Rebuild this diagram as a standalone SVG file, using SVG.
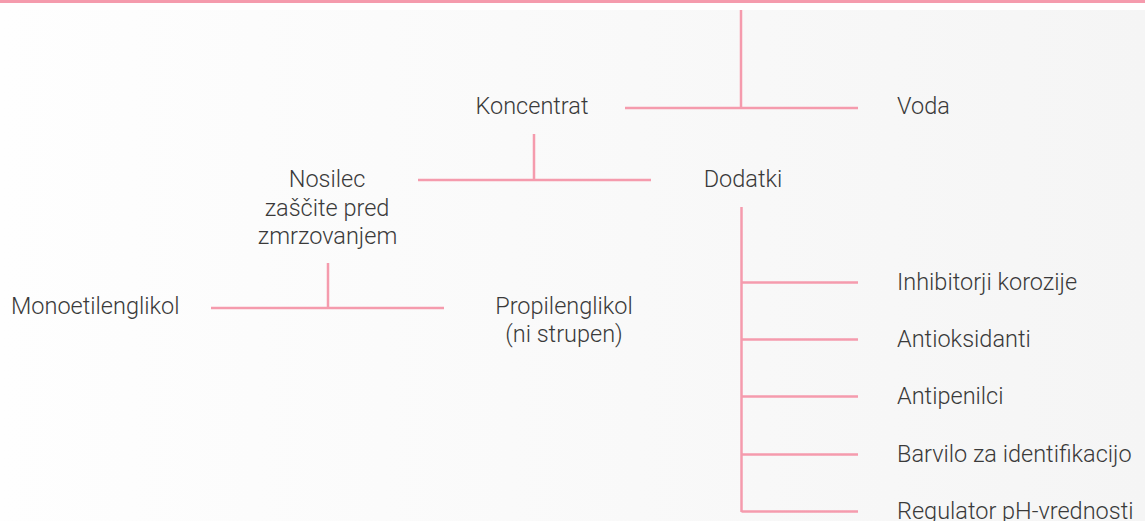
<svg xmlns="http://www.w3.org/2000/svg" width="1145" height="521" viewBox="0 0 1145 521">
  <defs>
    <linearGradient id="bg" x1="0" y1="0" x2="1" y2="0">
      <stop offset="0" stop-color="#fefefe"/>
      <stop offset="1" stop-color="#f5f5f5"/>
    </linearGradient>
    <style>
      .ln { stroke: #f59bad; stroke-width: 2.5; fill: none; }
      .t { font-family: Roboto, "Liberation Sans", sans-serif; font-weight: 300; font-size: 23.5px; fill: #3a3a3a; }
      .c { text-anchor: middle; }
    </style>
  </defs>
  <rect x="0" y="0" width="1145" height="521" fill="#ffffff"/>
  <rect x="0" y="10" width="1145" height="511" fill="url(#bg)"/>
  <rect x="0" y="0" width="1145" height="3" fill="#f59bad"/>

  <g id="connectors">
    <path class="ln" d="M741 10 V108 M625 108 H858"/>
    <path class="ln" d="M534 134 V180 M418 180 H651"/>
    <path class="ln" d="M328 263 V308 M211 308 H444"/>
    <path class="ln" d="M741.5 207 V512 M741.5 282.5 H858 M741.5 339.5 H858 M741.5 396.5 H858 M741.5 454.5 H858 M741.5 511.5 H858"/>
  </g>

  <g id="koncentrat"><text class="t c" x="532" y="114">Koncentrat</text></g>
  <g id="voda"><text class="t" x="897" y="114">Voda</text></g>
  <g id="dodatki"><text class="t c" x="743" y="187">Dodatki</text></g>
  <g id="nosilec">
    <text class="t c" x="327" y="187">Nosilec</text>
    <text class="t c" x="327" y="215.5">zaščite pred</text>
    <text class="t c" x="327.5" y="244">zmrzovanjem</text>
  </g>
  <g id="monoetilenglikol"><text class="t" x="11" y="314">Monoetilenglikol</text></g>
  <g id="propilenglikol">
    <text class="t c" x="564" y="314">Propilenglikol</text>
    <text class="t c" x="564" y="342">(ni strupen)</text>
  </g>
  <g id="inhibitorji"><text class="t" x="897" y="289.5">Inhibitorji korozije</text></g>
  <g id="antioksidanti"><text class="t" x="897" y="346.5">Antioksidanti</text></g>
  <g id="antipenilci"><text class="t" x="897" y="403.5">Antipenilci</text></g>
  <g id="barvilo"><text class="t" x="897" y="461.5">Barvilo za identifikacijo</text></g>
  <g id="regulator"><text class="t" x="897" y="519">Regulator pH-vrednosti</text></g>
</svg>
